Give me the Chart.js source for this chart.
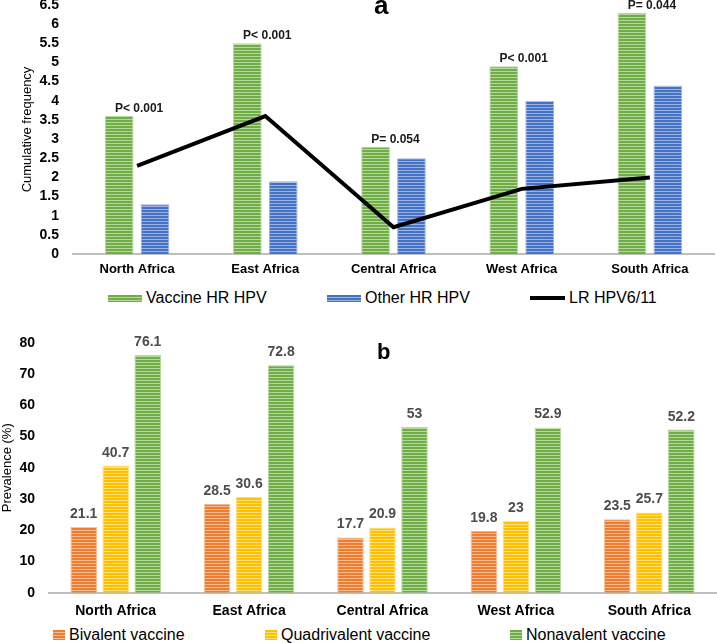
<!DOCTYPE html>
<html>
<head>
<meta charset="utf-8">
<script src="https://cdn.jsdelivr.net/npm/chart.js@4.4.1/dist/chart.umd.min.js"></script>
<style>
  body { margin: 0; background: #fff; font-family: "Liberation Sans", Arial, sans-serif; }
  #painel { position: relative; width: 717px; height: 643px; overflow: hidden; }
  .caixa { position: absolute; left: 0; width: 717px; }
  .letra { position: absolute; font-weight: bold; line-height: 1; color: #000; }
  .item { position: absolute; display: flex; align-items: center; font-size: 16px; line-height: 16px; color: #000; white-space: nowrap; }
  .amostra { display: inline-block; margin-right: 4px; }
</style>
</head>
<body>
<div id="painel">
  <div class="caixa" style="top:0;height:280px"><canvas id="grafico-a"></canvas></div>
  <div class="letra" style="left:374px;top:-8px;font-size:26px">a</div>
  <div id="legenda-a"></div>

  <div class="caixa" style="top:330px;height:290px"><canvas id="grafico-b"></canvas></div>
  <div class="letra" style="left:377px;top:341px;font-size:22px">b</div>
  <div id="legenda-b"></div>
</div>

<script>
// dados
const regioes = ['North Africa', 'East Africa', 'Central Africa', 'West Africa', 'South Africa'];
const vacinaHR = [3.6, 5.5, 2.8, 4.9, 6.3];
const outrosHR = [1.3, 1.9, 2.5, 4.0, 4.4];
const lrHPV = [2.3, 3.6, 0.7, 1.7, 2.0];
const valoresP = ['P< 0.001', 'P< 0.001', 'P= 0.054', 'P< 0.001', 'P= 0.044'];

const bivalente = [21.1, 28.5, 17.7, 19.8, 23.5];
const quadrivalente = [40.7, 30.6, 20.9, 23, 25.7];
const nonavalente = [76.1, 72.8, 53, 52.9, 52.2];

const cores = {
  verde: ['#70ad47', '#b5d89c'],
  azul: ['#4472c4', '#9db4e2'],
  laranja: ['#ed7d31', '#f7bb92'],
  amarelo: ['#ffc000', '#ffe07f']
};

const fonte = '"Liberation Sans", Arial, sans-serif';
Chart.defaults.font.family = fonte;
Chart.defaults.color = '#000';

function listras(par) {
  const c = document.createElement('canvas');
  c.width = 4; c.height = 3;
  const g = c.getContext('2d');
  g.fillStyle = par[0]; g.fillRect(0, 0, 4, 3);
  g.fillStyle = par[1]; g.fillRect(0, 2, 4, 1);
  return g.createPattern(c, 'repeat');
}

function barra(label, dados, par) {
  return {
    type: 'bar', label: label, data: dados,
    backgroundColor: listras(par), borderColor: par[1], borderWidth: 1,
    cor: par
  };
}

function montarLegenda(id, chart, lefts, top, caixa) {
  const div = document.getElementById(id);
  chart.data.datasets.forEach((ds, i) => {
    const item = document.createElement('div');
    item.className = 'item';
    item.style.left = lefts[i] + 'px';
    item.style.top = top + 'px';
    const am = document.createElement('span');
    am.className = 'amostra';
    if (ds.type === 'line') {
      am.style.width = '35px'; am.style.height = '4px'; am.style.background = ds.borderColor;
    } else {
      am.style.width = caixa[0] + 'px'; am.style.height = caixa[1] + 'px';
      am.style.background = `repeating-linear-gradient(to bottom, ${ds.cor[0]} 0 2px, ${ds.cor[1]} 2px 3px)`;
    }
    item.appendChild(am);
    item.appendChild(document.createTextNode(ds.label));
    div.appendChild(item);
  });
}

// grafico a
const rotulosP = {
  id: 'rotulosP',
  afterDatasetsDraw(chart) {
    const ctx = chart.ctx;
    const meta = chart.getDatasetMeta(0);
    ctx.save();
    ctx.font = 'bold 12px ' + fonte;
    ctx.fillStyle = '#1a1a1a';
    ctx.textAlign = 'center';
    ctx.textBaseline = 'alphabetic';
    meta.data.forEach((bar, i) => {
      const x = chart.scales.x.getPixelForValue(i) + 2;
      ctx.fillText(valoresP[i], x, bar.y - 4);
    });
    ctx.restore();
  }
};

const graficoA = new Chart(document.getElementById('grafico-a'), {
  data: {
    labels: regioes,
    datasets: [
      barra('Vaccine HR HPV', vacinaHR, cores.verde),
      barra('Other HR HPV', outrosHR, cores.azul),
      {
        type: 'line', label: 'LR HPV6/11', data: lrHPV,
        borderColor: '#000', borderWidth: 4, pointRadius: 0, tension: 0,
        order: -1
      }
    ]
  },
  options: {
    responsive: true,
    maintainAspectRatio: false,
    animation: false,
    datasets: { bar: { barPercentage: 0.8, categoryPercentage: 0.56 } },
    layout: { padding: { top: 5, right: 3, left: 0, bottom: 0 } },
    plugins: { legend: { display: false }, tooltip: { enabled: false } },
    scales: {
      x: {
        grid: { display: false, drawTicks: false },
        border: { display: true, color: '#bfbfbf', width: 2 },
        ticks: { font: { size: 13, weight: 'bold' }, padding: 8, color: '#000' },
        afterFit(s) { s.height = 26; s.paddingLeft = 0; s.paddingRight = 0; }
      },
      y: {
        min: 0, max: 6.5,
        grid: { display: false, drawTicks: false },
        border: { display: false },
        ticks: {
          stepSize: 0.5, autoSkip: false,
          font: { size: 14, weight: 'bold' }, padding: 14, color: '#000',
          callback: v => String(Math.round(v * 10) / 10)
        },
        title: { display: true, text: 'Cumulative frequency', font: { size: 13 }, color: '#000', padding: { top: 20, bottom: 0 } },
        afterFit(s) { s.width = 73; s.paddingTop = 0; s.paddingBottom = 0; }
      }
    }
  },
  plugins: [rotulosP]
});

// grafico b
const rotulosB = {
  id: 'rotulosB',
  afterDatasetsDraw(chart) {
    const ctx = chart.ctx;
    ctx.save();
    ctx.font = 'bold 14px ' + fonte;
    ctx.fillStyle = '#4d4d4d';
    ctx.textAlign = 'center';
    ctx.textBaseline = 'alphabetic';
    chart.data.datasets.forEach((ds, d) => {
      chart.getDatasetMeta(d).data.forEach((bar, i) => {
        ctx.fillText(String(ds.data[i]), bar.x, bar.y - 9);
      });
    });
    ctx.restore();
  }
};

const graficoB = new Chart(document.getElementById('grafico-b'), {
  data: {
    labels: regioes,
    datasets: [
      barra('Bivalent vaccine', bivalente, cores.laranja),
      barra('Quadrivalent vaccine', quadrivalente, cores.amarelo),
      barra('Nonavalent vaccine', nonavalente, cores.verde)
    ]
  },
  options: {
    responsive: true,
    maintainAspectRatio: false,
    animation: false,
    datasets: { bar: { barPercentage: 0.83, categoryPercentage: 0.72 } },
    layout: { padding: { top: 12.7, right: 1, left: 0, bottom: 0 } },
    plugins: { legend: { display: false }, tooltip: { enabled: false } },
    scales: {
      x: {
        grid: { display: false, drawTicks: false },
        border: { display: true, color: '#bfbfbf', width: 2 },
        ticks: { font: { size: 14, weight: 'bold' }, padding: 10, color: '#000' },
        afterFit(s) { s.height = 27.3; s.paddingLeft = 0; s.paddingRight = 0; }
      },
      y: {
        min: 0, max: 80,
        grid: { display: false, drawTicks: false },
        border: { display: false },
        ticks: { stepSize: 10, autoSkip: false, font: { size: 14, weight: 'bold' }, padding: 14, color: '#000' },
        title: { display: true, text: 'Prevalence (%)', font: { size: 13 }, color: '#000', padding: { top: 0, bottom: 0 } },
        afterFit(s) { s.width = 49; s.paddingTop = 0; s.paddingBottom = 0; }
      }
    }
  },
  plugins: [rotulosB]
});

montarLegenda('legenda-a', graficoA, [108, 327, 530], 290, [34, 7]);
montarLegenda('legenda-b', graficoB, [53, 265, 510], 627, [12, 10]);
</script>
</body>
</html>
